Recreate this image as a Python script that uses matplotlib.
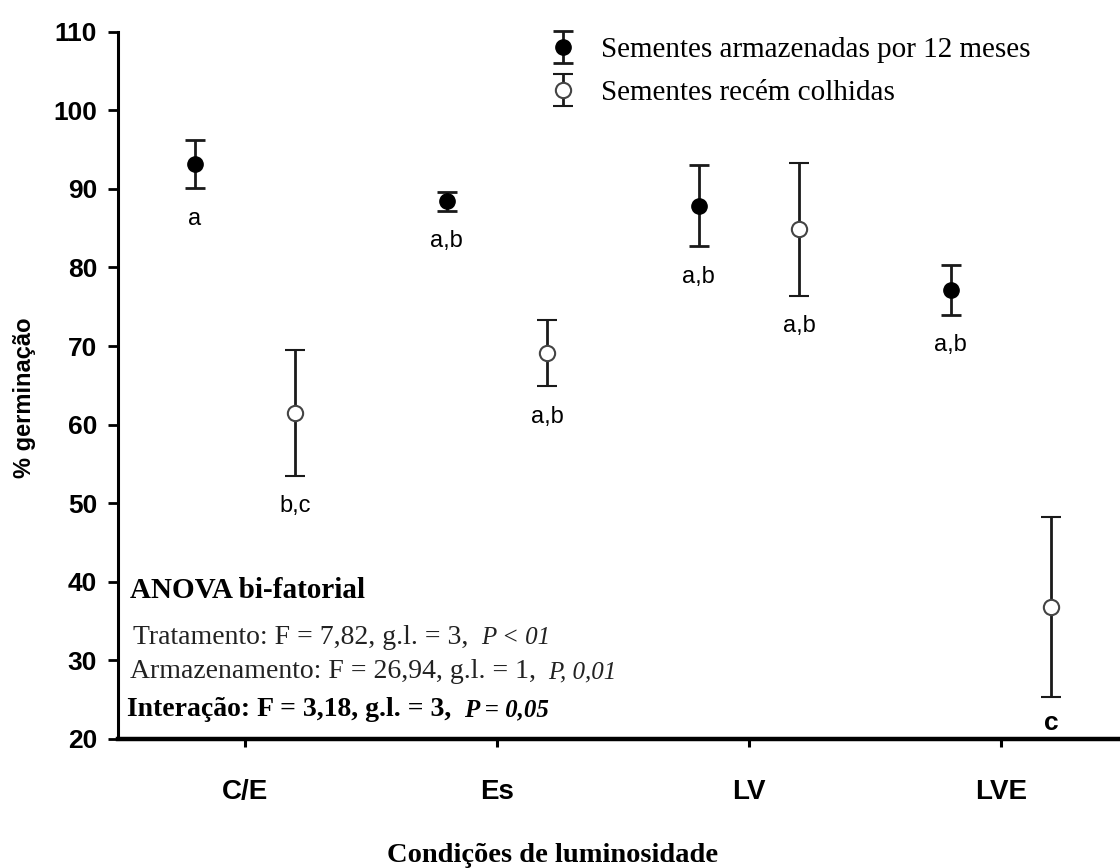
import matplotlib
matplotlib.use("Agg")
import matplotlib.pyplot as plt
from matplotlib.legend_handler import HandlerErrorbar
from matplotlib.container import ErrorbarContainer
import numpy as np

# ---------------- data ----------------
categories = ["C/E", "Es", "LV", "LVE"]
stored_mean = [93.15, 88.4, 87.85, 77.15]
stored_err = [3.05, 1.2, 5.15, 3.15]
fresh_mean = [61.5, 69.1, 84.85, 36.8]
fresh_err = [8.0, 4.2, 8.45, 11.4]
stored_letters = ["a", "a,b", "a,b", "a,b"]
fresh_letters = ["b,c", "a,b", "a,b", "c"]
yticks = [20, 30, 40, 50, 60, 70, 80, 90, 100, 110]
legend_labels = ["Sementes armazenadas por 12 meses", "Sementes recém colhidas"]
anova_title = "ANOVA bi-fatorial"
anova_rows = [
    ("Tratamento: F = 7,82, g.l. = 3,", "P < 01"),
    ("Armazenamento: F = 26,94, g.l. = 1,", "P, 0,01"),
    ("Interação: F = 3,18, g.l. = 3,", "P = 0,05"),
]
xlabel = "Condições de luminosidade"
ylabel = "% germinação"

# ---------------- figure ----------------
W, H = 1120, 868
fig = plt.figure(figsize=(W / 100, H / 100), dpi=100)
ax = fig.add_axes([118 / W, (H - 739) / H, 1 - 118 / W, (739 - 31.7) / H])

x = np.arange(len(categories))
off = 0.2
eb1 = ax.errorbar(x - off, stored_mean, yerr=stored_err, fmt='o', ms=11,
                  mfc='black', mec='black', ecolor='#1a1a1a', elinewidth=2,
                  capsize=7.5, capthick=2, label=legend_labels[0], zorder=3)
eb2 = ax.errorbar(x + off, fresh_mean, yerr=fresh_err, fmt='o', ms=11,
                  mfc='white', mec='#444444', mew=1.5, ecolor='#1a1a1a',
                  elinewidth=2, capsize=7.5, capthick=2,
                  label=legend_labels[1], zorder=3)

# significance letters
for xi, m, e, lab in zip(x - off, stored_mean, stored_err, stored_letters):
    ax.annotate(lab, (xi, m - e), xytext=(0, -22), textcoords='offset points',
                ha='center', va='center', fontsize=17, family='Liberation Sans')
for i, (xi, m, e, lab) in enumerate(zip(x + off, fresh_mean, fresh_err, fresh_letters)):
    ax.annotate(lab, (xi, m - e), xytext=(0, -19 if i == 3 else -22),
                textcoords='offset points', ha='center', va='center',
                fontsize=19 if i == 3 else 17, family='Liberation Sans',
                weight='heavy' if i == 3 else 'normal')

ax.set_xlim(-0.504, 3.472)
ax.set_ylim(20, 110)
ax.set_yticks(yticks)
ax.set_xticks(x, categories)
for s in ['top', 'right']:
    ax.spines[s].set_visible(False)
ax.spines['left'].set_linewidth(2.2)
ax.spines['bottom'].set_linewidth(3.2)
ax.tick_params(axis='y', direction='out', length=7, width=2, pad=8, labelsize=19)
ax.tick_params(axis='x', direction='out', length=6, width=2.2, pad=23, labelsize=20)
for lbl in ax.get_yticklabels() + ax.get_xticklabels():
    lbl.set_fontweight('heavy')
    lbl.set_family('Liberation Sans')

# legend
ax.legend(handles=[eb1, eb2], loc='upper left',
          bbox_to_anchor=(548 / W, (H - 37) / H), bbox_transform=fig.transFigure,
          frameon=False, prop={'family': 'Liberation Serif', 'size': 21},
          numpoints=1, handlelength=1.0, handletextpad=0.82, borderpad=0,
          borderaxespad=0, labelspacing=0.55,
          handler_map={ErrorbarContainer: HandlerErrorbar(yerr_size=0.55)})

# axis labels
fig.text(25 / W, 1 - 398 / H, ylabel, rotation=90, ha='center', va='center',
         fontsize=17, weight='heavy', family='Liberation Sans')
fig.text(553 / W, 1 - 856 / H, xlabel, ha='center', va='center',
         fontsize=20.5, weight='heavy', family='Liberation Serif')

# ANOVA annotation
fig.text(130 / W, 1 - 591 / H, anova_title, fontsize=21, weight='bold',
         family='Liberation Serif', va='center', ha='left')
row_y = [637, 671, 709]
row_x = [133, 130, 127]
for i, ((main, ital), yy, xx) in enumerate(zip(anova_rows, row_y, row_x)):
    wt = 'bold' if i == 2 else 'normal'
    col = 'black' if i == 2 else '#222222'
    t = fig.text(xx / W, 1 - yy / H, main, fontsize=20, weight=wt, color=col,
                 family='Liberation Serif', va='center', ha='left')
    ax.annotate(ital, xy=(1, 0), xycoords=t, xytext=(9, 0),
                textcoords='offset points', va='bottom', ha='left',
                fontsize=18, style='italic', weight=wt, color=col,
                family='Liberation Serif')

fig.savefig("out.png", dpi=100)
